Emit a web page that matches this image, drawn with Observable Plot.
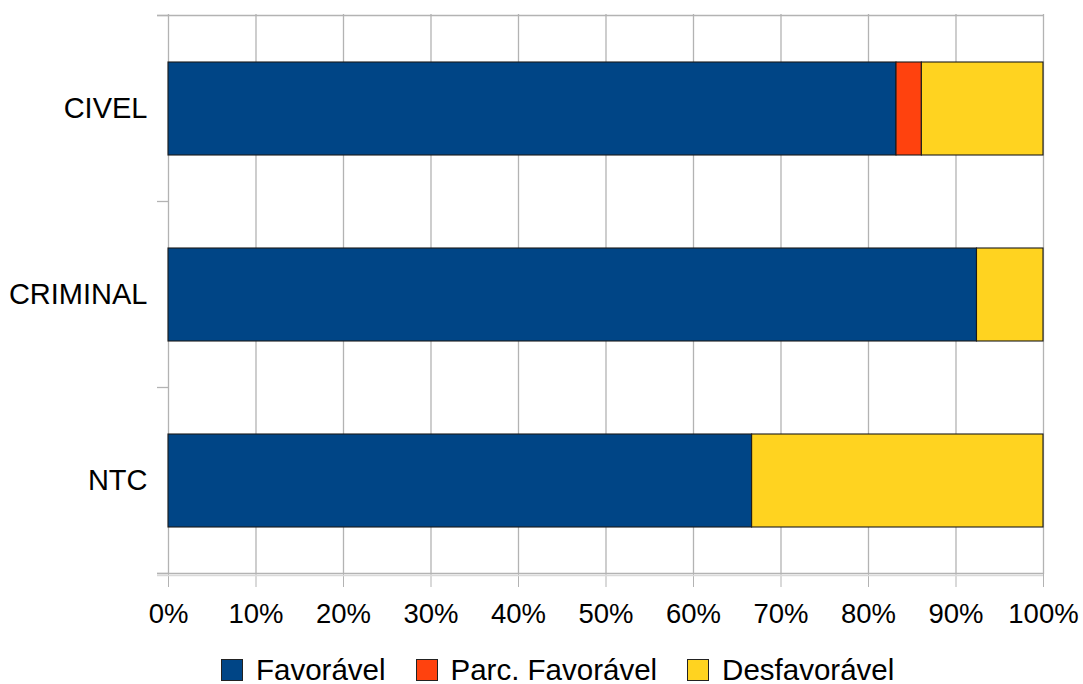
<!DOCTYPE html>
<html>
<head>
<meta charset="utf-8">
<script src="https://cdn.jsdelivr.net/npm/d3@7"></script>
<script src="https://cdn.jsdelivr.net/npm/@observablehq/plot@0.6"></script>
<style>
  body { margin: 0; background: #fff; font-family: "Liberation Sans", Arial, sans-serif; }
  #chart svg { display: block; }
  #legend { display: flex; align-items: center; height: 44px; margin-top: 8px; padding-left: 221px; font-size: 29.5px; color: #000; }
  .item { display: flex; align-items: center; margin-right: 30px; }
  .sw { width: 20px; height: 20px; border: 1px solid #222; margin-right: 13px; box-sizing: content-box; }
</style>
</head>
<body>
<div id="chart"></div>
<div id="legend"></div>
<script>
const categories = ["CIVEL", "CRIMINAL", "NTC"];
const series = ["Favorável", "Parc. Favorável", "Desfavorável"];
const colors = ["#004586", "#ff420e", "#ffd320"];
const favoravel = [0.832, 0.924, 0.667];
const parcFavoravel = [0.029, 0, 0];
const desfavoravel = [0.139, 0.076, 0.333];
const xTicks = [0, 0.1, 0.2, 0.3, 0.4, 0.5, 0.6, 0.7, 0.8, 0.9, 1.0];

const values = [favoravel, parcFavoravel, desfavoravel];
const data = [];
categories.forEach((c, i) => {
  series.forEach((s, j) => {
    data.push({ category: c, series: s, value: values[j][i] });
  });
});

const W = 1083, H = 640;
const mL = 168, mR = 40, mT = 14, mB = 66;

const chart = Plot.plot({
  width: W,
  height: H,
  marginLeft: mL,
  marginRight: mR,
  marginTop: mT,
  marginBottom: mB,
  style: { fontFamily: '"Liberation Sans", Arial, sans-serif', fontSize: "28px", color: "#000", background: "#fff" },
  x: { domain: [0, 1], ticks: xTicks, tickFormat: d => Math.round(d * 100) + "%", label: null },
  y: { domain: categories, paddingInner: 0.5, paddingOuter: 0.25, label: null },
  color: { domain: series, range: colors },
  marks: [
    Plot.ruleX(xTicks, { stroke: "#b3b3b3", strokeWidth: 1.3 }),
    Plot.axisX({ ticks: xTicks, tickFormat: d => Math.round(d * 100) + "%", tickSize: 13, tickPadding: 16, stroke: "#b3b3b3", strokeOpacity: 1, fill: "#000", fontSize: 27.5, label: null }),
    Plot.axisY({ tickSize: 0, tickPadding: 21, fill: "#000", fontSize: 29, label: null }),
    Plot.barX(data, Plot.stackX({ x: "value", y: "category", fill: "series", order: series, stroke: "#1a1a1a", strokeWidth: 1.1 }))
  ]
});

document.getElementById("chart").appendChild(chart);

// category boundary ticks and top/bottom lines, positioned from the y scale
const ys = chart.scale("y");
const step = ys.step;
const off = (step - ys.bandwidth) / 2;
const bounds = categories.map(c => ys.apply(c) - off);
bounds.push(ys.apply(categories[categories.length - 1]) - off + step);
const svg = d3.select(chart);
const xs = chart.scale("x");
const x0 = xs.apply(0), x1 = xs.apply(1);
const g = svg.append("g").attr("stroke", "#b3b3b3").attr("stroke-width", 1.3);
bounds.forEach((b, i) => {
  g.append("line").attr("x1", x0 - 11).attr("x2", x0).attr("y1", b).attr("y2", b);
});
[bounds[0], bounds[bounds.length - 1]].forEach(b => {
  g.append("line").attr("x1", x0 - 11).attr("x2", x1).attr("y1", b).attr("y2", b);
});
g.append("line").attr("x1", x0 - 11).attr("x2", x1).attr("y1", bounds[bounds.length - 1] + 2).attr("y2", bounds[bounds.length - 1] + 2).attr("stroke", "#d9d9d9");

// legend
const legend = d3.select("#legend");
series.forEach((s, i) => {
  const it = legend.append("div").attr("class", "item");
  it.append("div").attr("class", "sw").style("background", colors[i]);
  it.append("span").text(s);
});
</script>
</body>
</html>
